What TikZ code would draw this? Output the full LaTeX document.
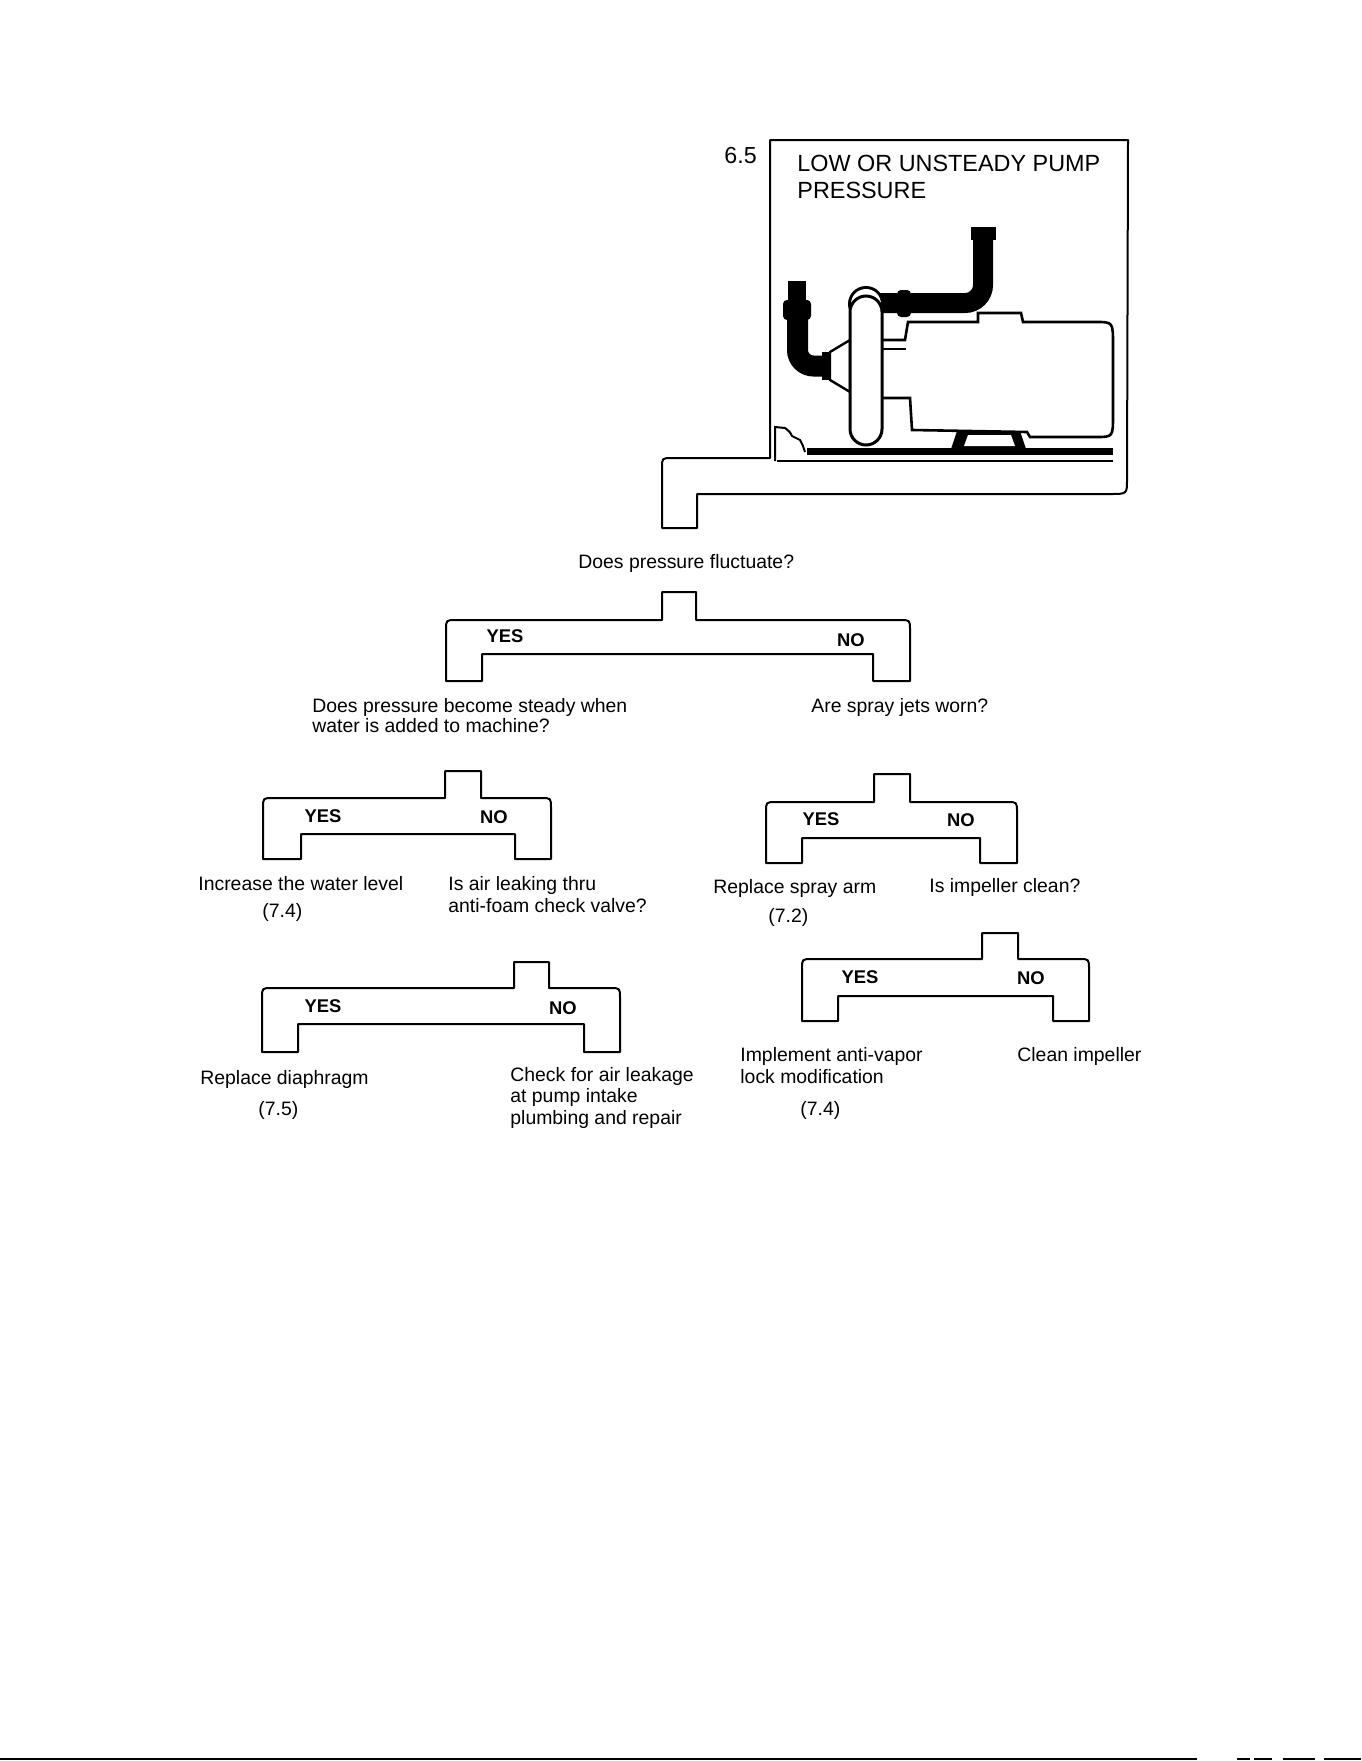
\documentclass[tikz,border=0pt]{standalone}
\usepackage{fontspec}
\setmainfont{Liberation Sans}
\tikzset{
  txt/.style={anchor=base west, inner sep=0pt, align=left, font=\fontsize{9.7}{10.6}\selectfont},
  yesno/.style={inner sep=0pt, font=\fontsize{9.2}{10}\selectfont\bfseries},
  brack/.style={line width=1pt, line join=round},
}
\begin{document}
\begin{tikzpicture}[x=0.5pt,y=-0.5pt]
\useasboundingbox (0,0) rectangle (1361,1761);
% title box with tab
\draw[brack] (770,140) -- (1128,140) -- (1127,480) .. controls (1127,494) .. (1110,494) -- (697,494) -- (697,528) -- (662,528) -- (662,468) .. controls (662,458) .. (672,458) -- (770,458) -- cycle;
\node[anchor=base west, inner sep=0pt, font=\fontsize{11.6}{14}\selectfont] (num) at (724,163) {6.5};
\node[txt, font=\fontsize{11.7}{13.5}\selectfont] (title) at (797,198) {LOW OR UNSTEADY PUMP\\PRESSURE};
% pump
\fill (807,448) rectangle (1113,455); %base rail
\draw[line width=0.8pt] (777,461) -- (1113,461);
\draw[line width=1pt] (775,461) -- (775,427) -- (785,428) .. controls (790,432) .. (792,436) -- (800,440) -- (803,446) -- (805,452);
\draw[line width=1.3pt, fill=white] (880,340) -- (905,340) -- (908,322) -- (978,322) -- (978,313) -- (1021,313) -- (1023,322) -- (1096,322) .. controls (1113,322) .. (1113,345) -- (1113,415) .. controls (1113,437) .. (1096,437) -- (1030,437) -- (1027,432) -- (912,430) -- (910,398) -- (880,398); %motor
\draw[line width=0.8pt] (882,349) -- (906,349);
\fill (957,431) -- (1020,431) -- (1027,452) -- (950,452) -- cycle; %feet
\fill[white] (968,435) -- (1011,435) -- (1015,446) -- (964,446) -- cycle;
\draw[line width=10pt, rounded corners=9pt] (872,303) -- (983,303) -- (983,232); %outlet
\fill (971,227) rectangle (996,240);
\fill[rounded corners=2pt] (897,290) rectangle (911,317);
\draw[line width=10.5pt, rounded corners=8pt] (797.5,300) -- (797.5,366) -- (830,366); %inlet
\fill (788,281) rectangle (806,305);
\fill[rounded corners=2pt] (783,300) rectangle (811,320);
\fill (822,352) rectangle (832,380);
\draw[line width=1.2pt, fill=white] (830,352) -- (850,340) -- (850,392) -- (830,380) -- cycle; %hub
\fill (866,304) circle (18);
\fill[white] (866,304) circle (15);
\draw[line width=1.5pt, fill=white, rounded corners=8pt] (850,296) rectangle (882,445); %volute
% yes/no brackets
\foreach \sl/\sr/\st/\bt/\bi/\lo/\li/\ri/\ro/\fb in {662/696/592/620/654/446/482/873/910/681,
    445/481/771/798/834/263/301/515/551/859, 514/549/962/988/1024/262/298/584/620/1052,
    874/910/774/802/838/766/802/980/1017/863, 982/1018/933/959/996/802/838/1053/1089/1021}
  \draw[brack] (\sl,\bt) -- (\sl,\st) -- (\sr,\st) -- (\sr,\bt) -- ({\ro-10},\bt) .. controls (\ro,\bt) .. (\ro,{\bt+10}) -- (\ro,\fb) -- (\ri,\fb) -- (\ri,\bi) -- (\li,\bi) -- (\li,\fb) -- (\lo,\fb) -- (\lo,{\bt+10}) .. controls (\lo,\bt) .. ({\lo+10},\bt) -- cycle;
\node[yesno] (yes1) at (505,636) {YES};
\node[yesno] (no1) at (851,640) {NO};
\node[yesno] (yes2) at (323,816) {YES};
\node[yesno] (no2) at (494,817) {NO};
\node[yesno] (yes3) at (323,1006) {YES};
\node[yesno] (no3) at (563,1008) {NO};
\node[yesno] (yes4) at (821,819) {YES};
\node[yesno] (no4) at (961,820) {NO};
\node[yesno] (yes5) at (860,977) {YES};
\node[yesno] (no5) at (1031,978) {NO};
% questions and answers
\node[txt] (q1) at (578,568) {Does pressure fluctuate?};
\node[txt, font=\fontsize{9.7}{10}\selectfont] (q2) at (312,732) {Does pressure become steady when\\water is added to machine?};
\node[txt] (q3) at (811,712) {Are spray jets worn?};
\node[txt] (a1) at (198,890) {Increase the water level};
\node[txt] (r1) at (262,917) {(7.4)};
\node[txt, font=\fontsize{9.7}{11}\selectfont] (q4) at (448,912) {Is air leaking thru\\anti-foam check valve?};
\node[txt] (a2) at (713,893) {Replace spray arm};
\node[txt] (r2) at (768,922) {(7.2)};
\node[txt] (q5) at (929,892) {Is impeller clean?};
\node[txt] (a3) at (200,1084) {Replace diaphragm};
\node[txt] (r3) at (258,1115) {(7.5)};
\node[txt] (a4) at (510,1124) {Check for air leakage\\at pump intake\\plumbing and repair};
\node[txt] (a5) at (740,1083) {Implement anti-vapor\\lock modification};
\node[txt] (r4) at (800,1115) {(7.4)};
\node[txt] (a6) at (1017,1061) {Clean impeller};
% scan edge
\draw[line width=1.2pt] (0,1759) -- (1197,1759) (1237,1759) -- (1250,1759) (1254,1759) -- (1272,1759) (1283,1759) -- (1315,1759) (1324,1759) -- (1361,1759);
\end{tikzpicture}
\end{document}
